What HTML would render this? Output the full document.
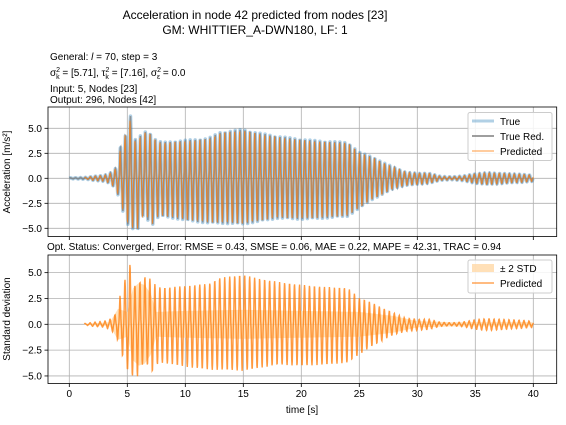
<!DOCTYPE html>
<html><head><meta charset="utf-8"><style>
body{margin:0;background:#fff}
svg{display:block;font-family:"Liberation Sans","DejaVu Sans",sans-serif}
</style></head><body>
<svg id="chart" width="566" height="425" viewBox="0 0 566 425">
<rect width="566" height="425" fill="#fff"/>
<text x="255" y="19" text-anchor="middle" font-size="12">Acceleration in node 42 predicted from nodes [23]</text>
<text x="255" y="34" text-anchor="middle" font-size="12">GM: WHITTIER_A-DWN180, LF: 1</text>
<g font-size="10">
<text x="50" y="60">General: <tspan font-style="italic">l</tspan> = 70, step = 3</text>
<text x="50" y="76">σ<tspan font-size="7" dy="-4">2</tspan><tspan font-size="7" dx="-4" dy="7">k</tspan><tspan dy="-3"> = [5.71], τ</tspan><tspan font-size="7" dy="-4">2</tspan><tspan font-size="7" dx="-4" dy="7">k</tspan><tspan dy="-3"> = [7.16], σ</tspan><tspan font-size="7" dy="-4">2</tspan><tspan font-size="7" dx="-4" dy="7">ε</tspan><tspan dy="-3"> = 0.0</tspan></text>
<text x="50" y="92">Input: 5, Nodes [23]</text>
<text x="50" y="103">Output: 296, Nodes [42]</text>
</g>
<text x="47" y="250" font-size="10">Opt. Status: Converged, Error: RMSE = 0.43, SMSE = 0.06, MAE = 0.22, MAPE = 42.31, TRAC = 0.94</text>
<g id="top"></g>
<g id="bot"></g>
<text x="302" y="413" text-anchor="middle" font-size="10">time [s]</text>
<text transform="translate(10,172) rotate(-90)" text-anchor="middle" font-size="10">Acceleration [m/s²]</text>
<text transform="translate(10,319) rotate(-90)" text-anchor="middle" font-size="10">Standard deviation</text>
<g>
<rect x="468" y="112.5" width="84" height="48" rx="2" fill="#fff" fill-opacity="0.85" stroke="#ccc"/>
<line x1="472" y1="121" x2="494" y2="121" stroke="#1f77b4" stroke-opacity="0.35" stroke-width="3"/>
<text x="500" y="125" font-size="10">True</text>
<line x1="472" y1="136" x2="494" y2="136" stroke="#7f7f7f" stroke-width="1.5"/>
<text x="500" y="140" font-size="10">True Red.</text>
<line x1="472" y1="151" x2="494" y2="151" stroke="#ff7f0e" stroke-opacity="0.8" stroke-width="1"/>
<text x="500" y="155" font-size="10">Predicted</text>
</g>
<g>
<rect x="468" y="260" width="84" height="33" rx="2" fill="#fff" fill-opacity="0.85" stroke="#ccc"/>
<rect x="472" y="264" width="22" height="8" fill="#ffd8a6" fill-opacity="0.8"/>
<text x="500" y="272" font-size="10">± 2 STD</text>
<line x1="472" y1="283" x2="494" y2="283" stroke="#ff7f0e" stroke-opacity="0.7" stroke-width="1.5"/>
<text x="500" y="287" font-size="10">Predicted</text>
</g>
</svg>
<script>
const xTicks=[0,5,10,15,20,25,30,35,40];
const yTicks=[-5.0,-2.5,0.0,2.5,5.0];
const envT  =[0,1,1.5,2,3,3.5,4,4.3,4.6,5,5.3,5.6,6,6.5,7,7.5,8,10,12,13,15,16,18,20,22,24,25,26,27,28,29,30,31,32,33,34,35,36,37,38,39,40];
const envPos=[0.05,0.08,0.1,0.2,0.3,0.5,1.0,2.2,4.8,4.0,6.5,3.8,4.1,4.7,4.5,3.8,3.6,3.8,4.0,4.6,4.9,4.6,4.2,3.9,3.7,3.6,2.6,2.2,1.6,1.1,0.6,0.5,0.5,0.2,0.15,0.25,0.45,0.55,0.5,0.45,0.4,0.3];
const envNeg=[0.05,0.08,0.1,0.2,0.3,0.5,1.0,2.0,3.2,4.5,5.2,5.0,5.2,3.2,5.0,4.0,3.8,4.2,4.5,4.5,4.6,4.4,4.0,4.1,4.0,3.8,3.0,2.2,1.6,1.0,0.7,0.6,0.5,0.2,0.15,0.25,0.5,0.6,0.55,0.45,0.4,0.3];
const stdT  =[1.3,3.5,4.2,5.0,5.5,6.0,6.5,7.0,7.5,10,15,20,25,28,30,33,40];
const stdV  =[0.05,0.2,1.5,1.2,3.5,4.0,3.8,3.0,1.2,1.3,1.4,1.3,1.2,0.8,0.3,0.2,0.2];
const period=0.43;
const NS="http://www.w3.org/2000/svg";
const X=t=>69.3+t*11.6;
function mk(tag,attrs,parent){const e=document.createElementNS(NS,tag);for(const k in attrs)e.setAttribute(k,attrs[k]);parent.appendChild(e);return e;}
function interp(ts,vs,t){if(t<=ts[0])return vs[0];for(let i=1;i<ts.length;i++){if(t<=ts[i]){const f=(t-ts[i-1])/(ts[i]-ts[i-1]);return vs[i-1]+f*(vs[i]-vs[i-1]);}}return vs[vs.length-1];}
function sig(t,shift,scale){let s=Math.sin(2*Math.PI*(t+shift)/period);s=Math.sign(s)*Math.pow(Math.abs(s),1.8);return s*(s>0?interp(envT,envPos,t):interp(envT,envNeg,t))*scale;}
function path(Y,t0,t1,shift,scale){let d="";for(let t=t0;t<=t1+1e-9;t+=0.025){d+=(d?"L":"M")+X(t).toFixed(1)+","+Y(sig(t,shift,scale)).toFixed(1);}return d;}
function axes(g,top,bot,Y){
  for(const v of xTicks){const l=mk('line',{x1:X(v),x2:X(v),y1:top,y2:bot,stroke:'#b0b0b0','stroke-width':0.8},g);}
  for(const v of yTicks){const l=mk('line',{x1:48,x2:556.7,y1:Y(v),y2:Y(v),stroke:'#b0b0b0','stroke-width':0.8},g);
    mk('line',{x1:44.5,x2:48,y1:Y(v),y2:Y(v),stroke:'#000','stroke-width':0.8},g);
    const tx=mk('text',{x:42,y:Y(v)+3.5,'text-anchor':'end','font-size':10},g);tx.textContent=v.toFixed(1).replace('-','−');}
  for(const v of xTicks){mk('line',{x1:X(v),x2:X(v),y1:bot,y2:bot+3.5,stroke:'#000','stroke-width':0.8},g);}
}
function frame(g,top,bot){mk('rect',{x:48,y:top,width:508.7,height:bot-top,fill:'none',stroke:'#000','stroke-width':0.8},g);}
const gt=document.getElementById('top');
const Yt=v=>178.3-v*10;
axes(gt,107,236.5,Yt);
let p=mk('path',{d:path(Yt,0,40,0,1),fill:'none',stroke:'#1f77b4','stroke-opacity':0.35,'stroke-width':3.5,'stroke-linejoin':'round'},gt);

p=mk('path',{d:path(Yt,0,40,0,1),fill:'none',stroke:'#7f7f7f','stroke-opacity':0.75,'stroke-width':1.6},gt);

p=mk('path',{d:path(Yt,1.3,40,0.04,0.98),fill:'none',stroke:'#ff7f0e','stroke-opacity':0.75,'stroke-width':1},gt);

frame(gt,107,236.5);
const gb=document.getElementById('bot');
const Yb=v=>324.3-v*10.33;
axes(gb,255,383.5,Yb);
let up="",dn="";
for(let t=stdT[0];t<=40;t+=0.1){up+=(up?"L":"M")+X(t).toFixed(1)+","+Yb(interp(stdT,stdV,t)).toFixed(1);}
for(let t=40;t>=stdT[0];t-=0.1){dn+="L"+X(t).toFixed(1)+","+Yb(-interp(stdT,stdV,t)).toFixed(1);}
p=mk('path',{d:up+dn+"Z",fill:'#ffd8a6','fill-opacity':0.75,stroke:'none'},gb);

p=mk('path',{d:path(Yb,1.3,40,0.04,0.98),fill:'none',stroke:'#ff7f0e','stroke-opacity':0.8,'stroke-width':1.4},gb);

frame(gb,255,383.5);
for(const v of xTicks){const tx=mk('text',{x:X(v),y:397,'text-anchor':'middle','font-size':10},gb);tx.textContent=v;}
</script>
</body></html>
